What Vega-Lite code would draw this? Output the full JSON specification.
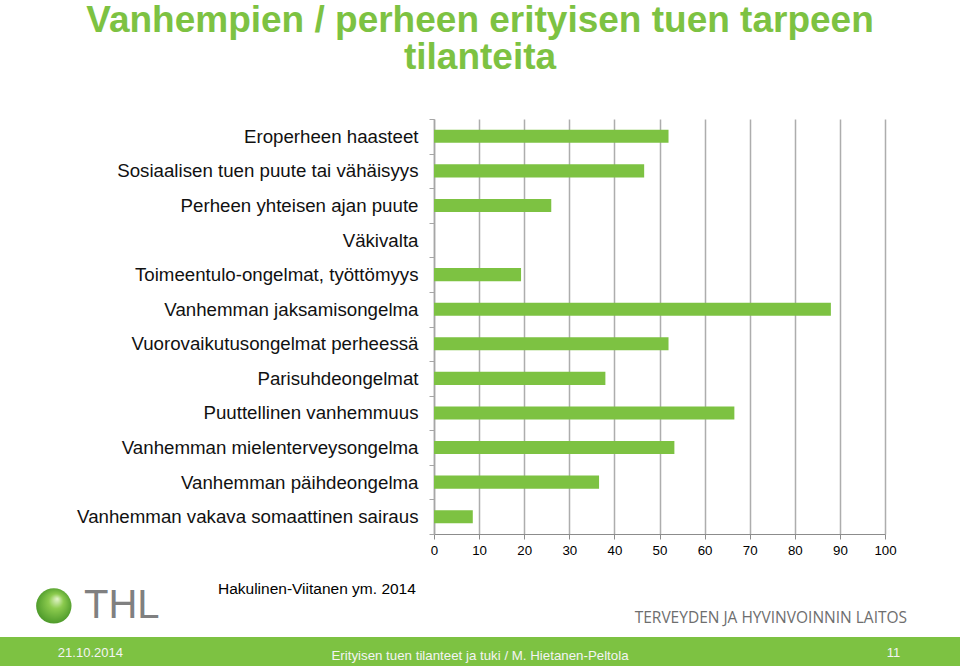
{
  "$schema": "https://vega.github.io/schema/vega-lite/v6.json",
  "width": 451,
  "height": 415,
  "autosize": {"type": "none"},
  "padding": {"left": 434, "top": 119, "right": 75, "bottom": 132},
  "background": "white",
  "config": {"view": {"stroke": null}, "font": "Liberation Sans"},
  "title": {
    "text": ["Vanhempien / perheen erityisen tuen tarpeen", "tilanteita"],
    "font": "Liberation Sans",
    "fontSize": 37,
    "fontWeight": "bold",
    "color": "#7DC242",
    "anchor": "middle",
    "frame": "bounds",
    "lineHeight": 37,
    "offset": 33
  },
  "resolve": {"scale": {"x": "independent", "y": "independent"}, "axis": {"x": "independent", "y": "independent"}},
  "layer": [
    {
      "data": {
        "values": [
          {"tilanne": "Eroperheen haasteet", "osuus": 52},
          {"tilanne": "Sosiaalisen tuen puute tai vähäisyys", "osuus": 46.6},
          {"tilanne": "Perheen yhteisen ajan puute", "osuus": 26},
          {"tilanne": "Väkivalta", "osuus": 0},
          {"tilanne": "Toimeentulo-ongelmat, työttömyys", "osuus": 19.3},
          {"tilanne": "Vanhemman jaksamisongelma", "osuus": 88},
          {"tilanne": "Vuorovaikutusongelmat perheessä", "osuus": 52},
          {"tilanne": "Parisuhdeongelmat", "osuus": 38},
          {"tilanne": "Puuttellinen vanhemmuus", "osuus": 66.6},
          {"tilanne": "Vanhemman mielenterveysongelma", "osuus": 53.3},
          {"tilanne": "Vanhemman päihdeongelma", "osuus": 36.6},
          {"tilanne": "Vanhemman vakava somaattinen sairaus", "osuus": 8.6}
        ]
      },
      "mark": {"type": "bar", "color": "#7DC242", "height": {"band": 0.38}},
      "encoding": {
        "y": {
          "field": "tilanne",
          "type": "nominal",
          "sort": null,
          "scale": {"paddingInner": 0, "paddingOuter": 0},
          "axis": {
            "title": null,
            "labelFont": "Liberation Sans",
            "labelFontSize": 18.7,
            "labelColor": "#111111",
            "labelPadding": 11,
            "labelLimit": 420,
            "tickBand": "extent",
            "tickSize": 5,
            "tickColor": "#A6A6A6",
            "tickWidth": 1,
            "domainColor": "#A6A6A6",
            "domainWidth": 1.5,
            "grid": false
          }
        },
        "x": {
          "field": "osuus",
          "type": "quantitative",
          "scale": {"domain": [0, 100]},
          "axis": {
            "title": null,
            "values": [0, 10, 20, 30, 40, 50, 60, 70, 80, 90, 100],
            "grid": true,
            "gridColor": "#ADADAD",
            "gridWidth": 1.5,
            "domainColor": "#8C8C8C",
            "domainWidth": 1,
            "tickColor": "#8C8C8C",
            "tickSize": 5,
            "labelFont": "Liberation Sans",
            "labelFontSize": 13.3,
            "labelColor": "#000000",
            "labelPadding": 4,
            "labelFlush": false
          }
        }
      }
    },
    {
      "data": {"values": [{}]},
      "layer": [
        {
          "mark": {"type": "rect", "color": "#7DC242"},
          "encoding": {
            "x": {"datum": -96.5, "type": "quantitative", "scale": {"domain": [0, 100], "range": [0, 451]}, "axis": null},
            "x2": {"datum": 116.9},
            "y": {"datum": 14.98, "type": "quantitative", "scale": {"domain": [0, 12], "range": [0, 415]}, "axis": null},
            "y2": {"datum": 15.9}
          }
        },
        {
          "mark": {"type": "text", "text": "Hakulinen-Viitanen ym. 2014", "align": "left", "baseline": "middle", "font": "Liberation Sans", "fontSize": 15.5, "color": "#000000"},
          "encoding": {
            "x": {"datum": -47.9, "type": "quantitative"},
            "y": {"datum": 13.59, "type": "quantitative"}
          }
        },
        {
          "mark": {
            "type": "point", "shape": "circle", "filled": true, "size": 1250, "opacity": 1, "strokeWidth": 0,
            "color": {"gradient": "radial", "x1": 0.6, "y1": 0.3, "x2": 0.5, "y2": 0.5, "r1": 0, "r2": 0.6,
              "stops": [{"offset": 0, "color": "#E4F4CC"}, {"offset": 0.35, "color": "#8CCB4E"}, {"offset": 1, "color": "#3F8F22"}]}
          },
          "encoding": {
            "x": {"datum": -84.3, "type": "quantitative"},
            "y": {"datum": 14.08, "type": "quantitative"}
          }
        },
        {
          "mark": {"type": "text", "text": "THL", "align": "left", "baseline": "alphabetic", "font": "Liberation Sans", "fontSize": 40, "color": "#808080"},
          "encoding": {
            "x": {"datum": -77.6, "type": "quantitative"},
            "y": {"datum": 14.43, "type": "quantitative"}
          }
        },
        {
          "mark": {"type": "text", "text": "TERVEYDEN JA HYVINVOINNIN LAITOS", "align": "right", "baseline": "middle", "font": "Open Sans", "fontSize": 15.5, "color": "#6E6E6E"},
          "encoding": {
            "x": {"datum": 104.9, "type": "quantitative"},
            "y": {"datum": 14.43, "type": "quantitative"}
          }
        },
        {
          "mark": {"type": "text", "text": "21.10.2014", "align": "left", "baseline": "middle", "font": "Liberation Sans", "fontSize": 13, "color": "#F4F4F4"},
          "encoding": {
            "x": {"datum": -83.4, "type": "quantitative"},
            "y": {"datum": 15.44, "type": "quantitative"}
          }
        },
        {
          "mark": {"type": "text", "text": "Erityisen tuen tilanteet ja tuki / M. Hietanen-Peltola", "align": "center", "baseline": "middle", "font": "Liberation Sans", "fontSize": 13.3, "color": "#F4F4F4"},
          "encoding": {
            "x": {"datum": 10.2, "type": "quantitative"},
            "y": {"datum": 15.53, "type": "quantitative"}
          }
        },
        {
          "mark": {"type": "text", "text": "11", "align": "center", "baseline": "middle", "font": "Liberation Sans", "fontSize": 13, "color": "#F4F4F4"},
          "encoding": {
            "x": {"datum": 101.9, "type": "quantitative"},
            "y": {"datum": 15.44, "type": "quantitative"}
          }
        }
      ]
    }
  ]
}
